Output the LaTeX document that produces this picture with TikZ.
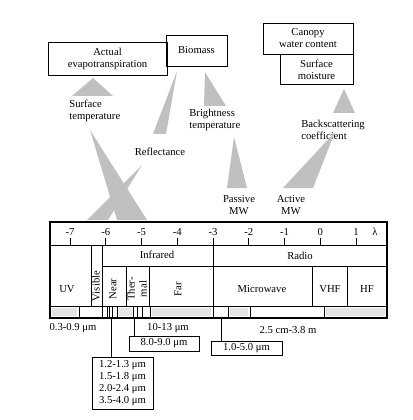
\documentclass[tikz,border=0pt]{standalone}
\usepackage{fontspec}
\setmainfont{Liberation Serif}
\definecolor{wedgegrey}{HTML}{C0C0C0}
\definecolor{bandgrey}{HTML}{E4E4E4}
\tikzset{
  every picture/.style={font=\fontsize{8}{9}\selectfont, line width=0.5pt},
  box/.style={draw, inner sep=0pt, align=center},
  lbl/.style={inner sep=0pt, align=center},
  wedge/.style={fill=wedgegrey},
  band/.style={fill=bandgrey},
}

\begin{document}
\begin{tikzpicture}[x=0.75pt, y=-0.75pt]
  \useasboundingbox (0,0) rectangle (412,420);
  % quantities that are retrieved
  \node[box, minimum width=89.25pt, minimum height=24.75pt] (ae) at (107.5,58.5) {Actual\\evapotranspiration};
  \node[box, minimum width=45.75pt, minimum height=23.25pt] (bio) at (196.5,50.5) {Biomass};
  \node[box, minimum width=67.5pt, minimum height=23.25pt] (cwc) at (308,38.5) {Canopy\\water content};
  \node[box, minimum width=54.75pt, minimum height=22.5pt, anchor=north east] (sm) at (cwc.south east) {Surface\\moisture};
  % what is measured
  \node[lbl, align=left, anchor=west] (st) at (69,111) {Surface\\temperature};
  \node[lbl] (refl) at (160,152) {Reflectance};
  \node[lbl, align=left, anchor=west] (bt) at (189,120) {Brightness\\temperature};
  \node[lbl, align=left, anchor=west] (bsc) at (301,130) {Backscattering\\coefficient};
  \node[lbl] (pmw) at (239,205) {Passive\\MW};
  \node[lbl] (amw) at (291,205) {Active\\MW};
  % grey wedges
  \fill[wedge] (93,78) -- (72,96) -- (113,96) -- cycle;
  \fill[wedge] (177,71) -- (153,134) -- (166,134) -- cycle;
  \fill[wedge] (205,72) -- (204,106) -- (226,106) -- cycle;
  \fill[wedge] (344,89) -- (333,113) -- (355,113) -- cycle;
  \fill[wedge] (90,130) -- (117,220) -- (147,220) -- cycle;
  \fill[wedge] (142,165) -- (87,220) -- (108,220) -- cycle;
  \fill[wedge] (234,137) -- (227,188) -- (247,188) -- cycle;
  \fill[wedge] (335,132) -- (283,188) -- (313,188) -- cycle;
  % the spectrum table
  \draw[line width=0.8pt] (50,222) rectangle (387,318);
  \draw (50,245) -- (387,245);
  \draw (102,266) -- (387,266);
  \draw (50,306) -- (387,306);
  \draw (91,245) -- (91,306);
  \draw (102,245) -- (102,318);
  \draw (126,266) -- (126,306);
  \draw (149,266) -- (149,306);
  \draw (213,245) -- (213,318);
  \draw (312,266) -- (312,306);
  \draw (347,266) -- (347,306);
  \foreach \k [count=\i from 0] in {-7,...,1} {
    \draw (70+35.75*\i,238) -- (70+35.75*\i,245);
    \node[lbl] (t\i) at (70+35.75*\i,232) {\k};
  }
  \node[lbl] (lam) at (375,232) {λ};
  \node[lbl] (ir) at (157,255) {Infrared};
  \node[lbl] (radio) at (300,256) {Radio};
  \node[lbl] (uv) at (67,289) {UV};
  \node[lbl, rotate=90] (vis) at (96,286) {Visible};
  \node[lbl, rotate=90] (near) at (113,289) {Near};
  \node[lbl, rotate=90] (therm) at (137,289) {Ther-\\mal};
  \node[lbl, rotate=90] (far) at (178,289) {Far};
  \node[lbl] (mw) at (262,289) {Microwave};
  \node[lbl] (vhf) at (330,289) {VHF};
  \node[lbl] (hf) at (367,289) {HF};
  % bands used by sensors
  \foreach \a/\b in {52/77, 119/132, 152/211, 230/248, 326/385}
    \fill[band] (\a,308) rectangle (\b,316);
  \foreach \x in {79,107,109,112,117,133,137,142,150,228,250,324}
    \draw (\x,306) -- (\x,318);
  % wavelength ranges
  \node[lbl] (uvr) at (73,328) {0.3-0.9 μm};
  \node[lbl] (tr) at (168,328) {10-13 μm};
  \node[lbl] (mr) at (288,330) {2.5 cm-3.8 m};
  \node[box, minimum width=45.75pt, minimum height=39pt] (nr) at (122.5,383) {1.2-1.3 μm\\1.5-1.8 μm\\2.0-2.4 μm\\3.5-4.0 μm};
  \node[box, minimum width=52.5pt, minimum height=11.25pt] (thr) at (164,343.5) {8.0-9.0 μm};
  \node[box, minimum width=53.25pt, minimum height=10.5pt] (mwr) at (246.5,348) {1.0-5.0 μm};
  \coordinate (nb) at (111,318);
  \coordinate (tb) at (134,318);
  \coordinate (mb) at (221,318);
  \draw (nb) -- (nb |- nr.north);
  \draw (tb) -- (tb |- thr.north);
  \draw (mb) -- (mb |- mwr.north);
\end{tikzpicture}
\end{document}
